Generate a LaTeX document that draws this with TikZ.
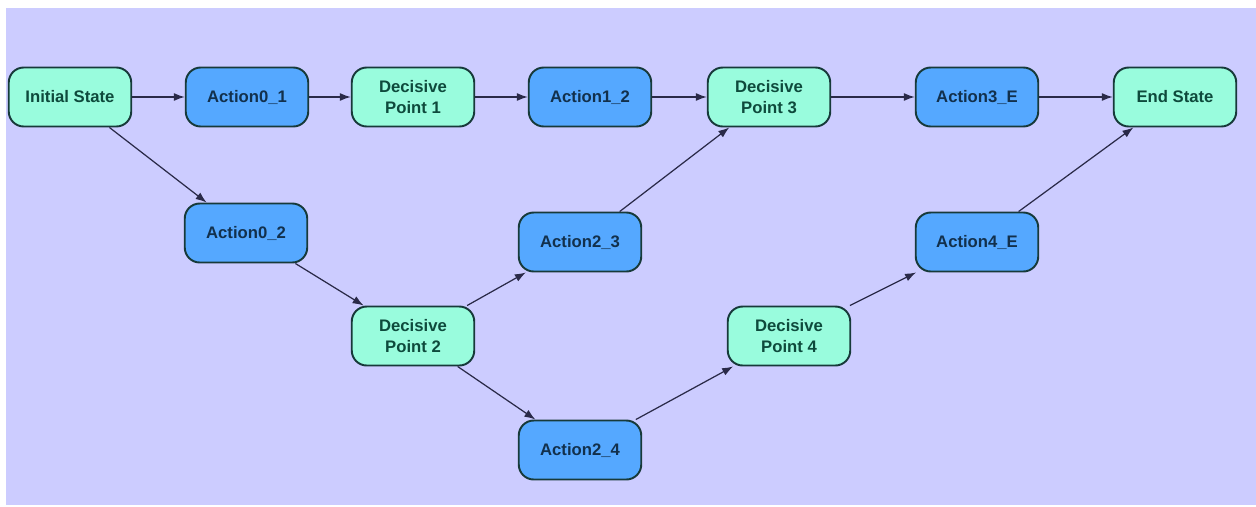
\documentclass[tikz,border=0pt]{standalone}
\usepackage{fontspec}
\setmainfont{Liberation Sans}
\usetikzlibrary{arrows.meta}

\definecolor{lavender}{HTML}{CCCCFF}
\definecolor{stategreen}{HTML}{99FCDD}
\definecolor{actionblue}{HTML}{55A8FF}
\definecolor{boxline}{HTML}{173A3A}
\definecolor{edgeline}{HTML}{2A2A48}
\definecolor{statetext}{HTML}{0E4A3C}
\definecolor{actiontext}{HTML}{12304C}

\begin{document}
\begin{tikzpicture}[every node/.style={rectangle, rounded corners=0.3cm, draw=boxline, line width=1.1pt, minimum width=2.45cm, minimum height=1.18cm, align=center, font=\fontsize{9.5}{11.5}\selectfont\bfseries}, statebox/.style={fill=stategreen, text=statetext}, actbox/.style={fill=actionblue, text=actiontext}, every edge/.style={draw=edgeline, line width=0.7pt, -{Latex[length=2.2mm,width=1.6mm]}}]
				\fill[white] (0,0) rectangle (25.12,10.12);
				\fill[lavender] (0.12,0.02) rectangle (25.12,9.96);
				\useasboundingbox (0,0) rectangle (25.12,10.12);
				
				\node[statebox] (init) at (1.40,8.18){Initial State};
				\node[actbox] (act01) at (4.94,8.18){Action0\_1};
				\node[statebox] (dp1) at (8.26,8.18){Decisive\\Point 1};
				\node[actbox] (act12) at (11.80,8.18){Action1\_2};
				\node[statebox] (dp3) at (15.38,8.18){Decisive\\Point 3};
				\node[actbox] (act3e) at (19.54,8.18){Action3\_E};
				\node[statebox] (endst) at (23.50,8.18){End State};
				\node[actbox] (act02) at (4.92,5.46){Action0\_2};
				\node[actbox] (act23) at (11.60,5.28){Action2\_3};
				\node[actbox] (act4e) at (19.54,5.28){Action4\_E};
				\node[statebox] (dp2) at (8.26,3.40){Decisive\\Point 2};
				\node[statebox] (dp4) at (15.78,3.40){Decisive\\Point 4};
				\node[actbox] (act24) at (11.60,1.12){Action2\_4};
				
				\path (init) edge (act01);
				\path (act01) edge (dp1);
				\path (dp1) edge (act12);
				\path (act12) edge (dp3);
				\path (dp3) edge (act3e);
				\path (act3e) edge (endst);
				\path (init) edge (act02);
				\path (act02) edge (dp2);
				\path (dp2) edge (act23);
				\path (act23) edge (dp3);
				\path (dp2) edge (act24);
				\path (act24) edge (dp4);
				\path (dp4) edge (act4e);
				\path (act4e) edge (endst);
				\end{tikzpicture}
\end{document}
